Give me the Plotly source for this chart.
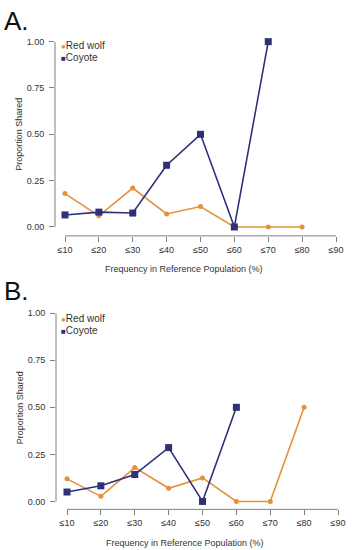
import plotly.graph_objects as go

categories = ["≤10", "≤20", "≤30", "≤40", "≤50", "≤60", "≤70", "≤80", "≤90"]

# Panel A
a_red_wolf = [0.18, 0.06, 0.21, 0.07, 0.11, 0.0, 0.0, 0.0, None]
a_coyote = [0.065, 0.08, 0.075, 0.333, 0.5, 0.0, 1.0, None, None]

# Panel B
b_red_wolf = [0.12, 0.027, 0.18, 0.07, 0.125, 0.0, 0.0, 0.5, None]
b_coyote = [0.05, 0.083, 0.143, 0.286, 0.0, 0.5, None, None, None]

y_ticks = [0, 0.25, 0.5, 0.75, 1.0]
y_ticklabels = ["0.00", "0.25", "0.50", "0.75", "1.00"]

ORANGE = "#E3913A"
NAVY = "#2E3178"
AXIS = "#808080"
TXT = "#333333"
FONT = "Liberation Sans, Arial, sans-serif"

W, H = 354, 550
def px(x):
    return x / W
def py(y):
    return 1 - y / H

idx = list(range(len(categories)))

fig = go.Figure()

def add_series(xa, ya, red, coy):
    fig.add_trace(go.Scatter(
        x=idx, y=red, mode="lines+markers", name="Red wolf",
        line=dict(color=ORANGE, width=1.6),
        marker=dict(symbol="circle", size=5, color=ORANGE),
        xaxis=xa, yaxis=ya, showlegend=False, cliponaxis=False,
    ))
    fig.add_trace(go.Scatter(
        x=idx, y=coy, mode="lines+markers", name="Coyote",
        line=dict(color=NAVY, width=1.6),
        marker=dict(symbol="square", size=7, color=NAVY),
        xaxis=xa, yaxis=ya, showlegend=False, cliponaxis=False,
    ))

add_series("x", "y", a_red_wolf, a_coyote)
add_series("x2", "y2", b_red_wolf, b_coyote)

spacing = (336 - 65) / 8.0

def xaxis_cfg(left_px, tick0_px, right_px, anchor):
    return dict(
        domain=[px(left_px), px(right_px)],
        range=[-(tick0_px - left_px) / spacing, 8 + (right_px - (tick0_px + 8 * spacing)) / spacing],
        tickmode="array", tickvals=idx, ticktext=categories,
        ticks="outside", ticklen=5, tickcolor=AXIS, tickwidth=1,
        showgrid=False, zeroline=False, showline=False,
        tickfont=dict(family=FONT, size=9, color=TXT),
        anchor=anchor, fixedrange=True,
    )

def yaxis_cfg(top_px, zero_px, bottom_px, anchor):
    per = (zero_px - top_px)
    return dict(
        domain=[py(bottom_px), py(top_px)],
        range=[-(bottom_px - zero_px) / per, 1.0],
        tickmode="array", tickvals=y_ticks, ticktext=y_ticklabels,
        ticks="outside", ticklen=5, tickcolor=AXIS, tickwidth=1,
        showgrid=False, zeroline=False, showline=False,
        tickfont=dict(family=FONT, size=9, color=TXT),
        ticklabelstandoff=3,
        anchor=anchor, fixedrange=True,
    )

fig.update_layout(
    xaxis=xaxis_cfg(55, 65, 345, "y"),
    yaxis=yaxis_cfg(37, 224, 233, "x"),
    xaxis2=xaxis_cfg(56, 67, 345, "y2"),
    yaxis2=yaxis_cfg(311, 501, 509, "x2"),
)

shapes = []
for xa, ya in (("x", "y"), ("x2", "y2")):
    shapes.append(dict(type="line", xref=f"{xa} domain", yref=ya, x0=0, x1=0, y0=0, y1=1,
                       line=dict(color=AXIS, width=1)))
    shapes.append(dict(type="line", xref=xa, yref=f"{ya} domain", x0=0, x1=8, y0=0, y1=0,
                       line=dict(color=AXIS, width=1)))

annotations = []
def label(text, x, y, size, xanchor="center", yanchor="middle", angle=0, color=TXT):
    annotations.append(dict(text=text, x=px(x), y=py(y), xref="paper", yref="paper",
                            showarrow=False, xanchor=xanchor, yanchor=yanchor, textangle=angle,
                            font=dict(family=FONT, size=size, color=color)))

label("A.", 2, 16, 26, xanchor="left", color="#111111")
label("B.", 2, 289, 26, xanchor="left", color="#111111")
label("Frequency in Reference Population (%)", 184, 266, 9)
label("Frequency in Reference Population (%)", 185, 543, 9)
label("Proportion Shared", 19, 131, 9, angle=-90)
label("Proportion Shared", 20, 407, 9, angle=-90)

def legend(x, y_top, gap):
    label(f"<span style='color:{ORANGE};font-size:8px'>●</span>Red wolf", x, y_top, 10, xanchor="left")
    label(f"<span style='color:{NAVY};font-size:8px'>■</span>Coyote", x, y_top + gap, 10, xanchor="left")

legend(59, 41, 11.5)
legend(59, 316, 12)

fig.update_layout(
    width=W, height=H,
    margin=dict(l=0, r=0, t=0, b=0),
    paper_bgcolor="white", plot_bgcolor="white",
    shapes=shapes, annotations=annotations,
    showlegend=False,
)

fig.write_html(
    "out.html",
    config={"displayModeBar": False},
    post_script="document.body.style.margin='0';document.body.style.padding='0';document.body.style.overflow='hidden';",
)
